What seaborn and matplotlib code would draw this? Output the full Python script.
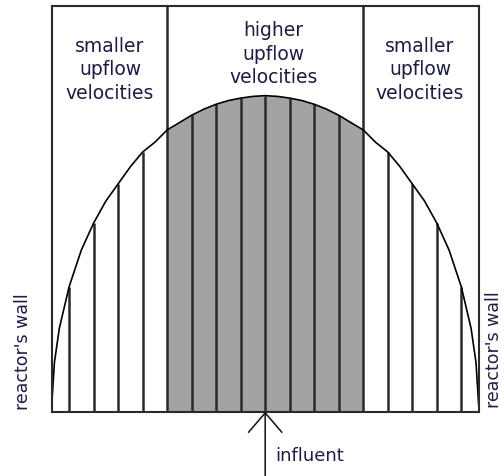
import matplotlib
matplotlib.use('Agg')
import matplotlib.pyplot as plt
import numpy as np
import seaborn as sns

# curve of the velocity profile (distance from axis, height)
curve_x = [-8.71, -8.6, -8.4, -8.0, -7.5, -7.0, -6.5, -6.0, -5.5, -5.0, -4.5, -4.0,
           -3.5, -3.0, -2.5, -2.0, -1.5, -1.0, -0.5, 0.0,
           0.5, 1.0, 1.5, 2.0, 2.5, 3.0, 3.5, 4.0, 4.5, 5.0, 5.5, 6.0, 6.5,
           7.0, 7.5, 8.0, 8.4, 8.6, 8.71]
curve_h = [0.25, 2.0, 3.4, 5.1, 6.6, 7.7, 8.6, 9.3, 10.0, 10.6, 11.0, 11.5,
           11.8, 12.1, 12.35, 12.55, 12.7, 12.8, 12.87, 12.9,
           12.87, 12.8, 12.7, 12.55, 12.35, 12.1, 11.8, 11.5, 11.0, 10.6, 10.0, 9.3, 8.6,
           7.7, 6.6, 5.1, 3.4, 2.0, 0.25]

# vertical strips
line_pos = [-8, -7, -6, -5, -3, -2, -1, 0, 1, 2, 3, 5, 6, 7, 8]
line_h = [5.1, 7.7, 9.3, 10.6, 12.1, 12.55, 12.8, 12.9, 12.8, 12.55, 12.1, 10.6, 9.3, 7.7, 5.1]

zone_edges = [-4, 4]
zone_labels = ['smaller\nupflow\nvelocities', 'higher\nupflow\nvelocities', 'smaller\nupflow\nvelocities']
zone_x = [-6.33, 0.35, 6.32]
zone_top = [15.35, 15.98, 15.35]

sns.set_theme(style='white')
plt.rcParams['font.family'] = ['DejaVu Sans']
txt_col = '#1c1c48'

fig = plt.figure(figsize=(5.04, 4.77), dpi=100)
ax = fig.add_axes([51.7/504, (477-412.7)/477, 427/504, 405.7/477])
ax.set_xlim(-8.71, 8.71)
ax.set_ylim(0, 16.56)

xs = np.array(curve_x)
hs = np.array(curve_h)
mid = (xs >= zone_edges[0]) & (xs <= zone_edges[1])
ax.fill_between(xs[mid], 0, hs[mid], color='#a3a3a3', lw=0)

ax.vlines(line_pos, 0, line_h, color='#2a2a2a', lw=1.8)
for e in zone_edges:
    ax.axvline(e, color='#2a2a2a', lw=1.8)

sns.lineplot(x=curve_x, y=curve_h, ax=ax, color='black', lw=1.2, sort=False)

for lab, x, y in zip(zone_labels, zone_x, zone_top):
    ax.text(x, y, lab, ha='center', va='top', fontsize=13.5, color=txt_col,
            linespacing=1.3)

ax.text(-9.88, 0.1, "reactor's wall", rotation=90, ha='center', va='bottom',
        fontsize=12.5, color=txt_col, clip_on=False)
# right label sits against the figure edge; keep it just inside
ax.text(9.70, 0.2, "reactor's wall", rotation=90, ha='right', va='bottom',
        fontsize=12.5, color=txt_col, clip_on=False)
ax.text(0.40, -1.96, 'influent', ha='left', va='baseline', fontsize=13,
        color=txt_col, clip_on=False)
ax.annotate('', xy=(0, 0), xytext=(0, -2.7), annotation_clip=False,
            arrowprops=dict(arrowstyle='->,head_length=1.4,head_width=1.2',
                            lw=1.1, color='#111111', shrinkA=0, shrinkB=0,
                            mutation_scale=10))

ax.set_xticks([])
ax.set_yticks([])
for s in ax.spines.values():
    s.set_color('#2a2a2a')
    s.set_linewidth(1.5)

fig.savefig('out.png', dpi=100, facecolor='white')
